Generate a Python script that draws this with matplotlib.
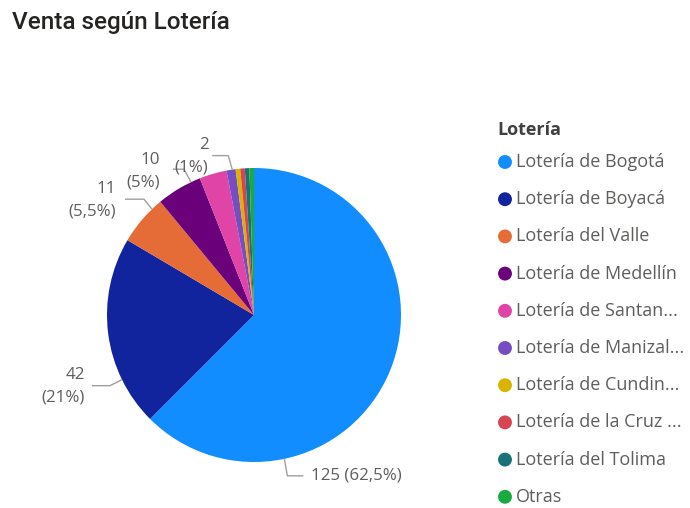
import numpy as np
import matplotlib
matplotlib.use("Agg")
import matplotlib.pyplot as plt

categories = ["Lotería de Bogotá", "Lotería de Boyacá", "Lotería del Valle",
              "Lotería de Medellín", "Lotería de Santan...", "Lotería de Manizal...",
              "Lotería de Cundin...", "Lotería de la Cruz ...", "Lotería del Tolima", "Otras"]
values = [125, 42, 11, 10, 6, 2, 1, 1, 1, 1]
colors = ["#118DFF", "#12239E", "#E66C37", "#6B007B", "#E044A7", "#744EC2",
          "#D9B300", "#D64550", "#197278", "#1AAB40"]
label_text = {0: "125 (62,5%)", 1: "42\n(21%)", 2: "11\n(5,5%)", 3: "10\n(5%)", 5: "2\n(1%)"}

W, H = 690, 508
fig = plt.figure(figsize=(W / 100, H / 100), dpi=100)
plt.rcParams['font.family'] = ['Open Sans', 'DejaVu Sans']

CX, CY, R = 254, 315, 147

def px2fig(x, y):
    return x / W, 1 - y / H

bx0, bx1, by0, by1 = CX - 230, CX + 230, CY - 200, CY + 200
ax = fig.add_axes([bx0 / W, 1 - by1 / H, (bx1 - bx0) / W, (by1 - by0) / H])
wedges, _ = ax.pie(values, colors=colors, startangle=90, counterclock=False,
                   radius=1.0, wedgeprops=dict(linewidth=0))
ax.set_xlim((bx0 - CX) / R, (bx1 - CX) / R)
ax.set_ylim((CY - by1) / R, (CY - by0) / R)
ax.set_aspect('auto')
ax.axis('off')

def d(px, py):
    return (px - CX) / R, (CY - py) / R

gray = "#605E5C"
line_c = "#A19F9D"
fs = 12.2

anchor_frac = {0: 0.747, 1: 0.25, 2: 0.78, 3: 0.79, 5: 0.64}
layout = {
    0: [(3, 17), (19, 17), (27, 17), 'left'],
    1: [(-12, 6), (-30, 6), (-37, 6.5), 'right'],
    2: [(-8, -10), (-27, -10), (-36, -8.5), 'right'],
    3: [(-7, -13), (-18, -13), (-31, -10.5), 'right'],
    5: [(-4, -14), (-20, -14), (-24, -13), 'right'],
}
for i, w in enumerate(wedges):
    if i not in layout:
        continue
    t1, t2 = w.theta1, w.theta2
    ang = np.deg2rad(t2 - anchor_frac[i] * (t2 - t1))
    ax_px = CX + R * np.cos(ang)
    ay_px = CY - R * np.sin(ang)
    (ex, ey), (fx, fy), (tx, ty), ha = layout[i]
    xs = [ax_px, ax_px + ex, ax_px + fx]
    ys = [ay_px, ay_px + ey, ay_px + fy]
    ax.plot(*zip(*[d(x, y) for x, y in zip(xs, ys)]), color=line_c, lw=1.0,
            clip_on=False, solid_capstyle='butt')
    txt = label_text[i]
    tx_d, ty_d = d(ax_px + tx, ay_px + ty)
    if "\n" in txt:
        a, b = txt.split("\n")
        lh = 22.5 / R
        ax.text(tx_d, ty_d + lh / 2, a, ha=ha, va='center', color=gray, fontsize=fs)
        ax.text(tx_d, ty_d - lh / 2, b, ha=ha, va='center', color=gray, fontsize=fs)
    else:
        ax.text(tx_d, ty_d, txt, ha=ha, va='center', color=gray, fontsize=fs)

fig.text(*px2fig(12, 22), "Venta según Lotería", fontsize=17.5, color="#252423",
         ha='left', va='center', family=['Roboto', 'DejaVu Sans'], fontweight='medium')

fig.text(*px2fig(497, 130), "Lotería", fontsize=13, fontweight='bold',
         color="#404040", ha='left', va='center')
lax = fig.add_axes([0, 0, 1, 1], facecolor='none')
lax.set_xlim(0, W)
lax.set_ylim(H, 0)
lax.axis('off')
y0, dy = 162, 37.2
for k, (c, name) in enumerate(zip(colors, categories)):
    y = y0 + k * dy
    lax.scatter([505], [y], s=100, color=c, edgecolors='none')
    lax.text(516, y, name, fontsize=13, color=gray, ha='left', va='center')

fig.savefig("out.png", dpi=100)
